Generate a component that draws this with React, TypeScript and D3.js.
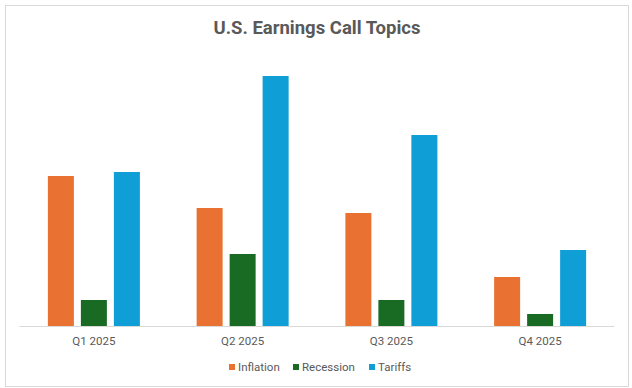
import React from "react";
import * as d3 from "d3";

const quarters = ["Q1 2025", "Q2 2025", "Q3 2025", "Q4 2025"];
const seriesNames = ["Inflation", "Recession", "Tariffs"];
const inflation = [150, 118, 113, 49];
const recession = [26, 72, 26, 12];
const tariffs = [154, 250, 191, 76];
const COLORS = ["#E97132", "#196B24", "#0F9ED5"];

const W = 632;
const H = 388;
const TEXT = "#595959";
const FONT = "Roboto, 'Liberation Sans', sans-serif";

const App = () => {
  const values = [inflation, recession, tariffs];
  const x = d3.scaleBand<string>().domain(quarters).range([19.5, 614.5]);
  const inner = d3
    .scaleBand<string>()
    .domain(seriesNames)
    .range([-46, 46])
    .paddingInner(7 / 33);
  const y = d3.scaleLinear().domain([0, 250]).range([326, 76]);

  // legend layout
  const legendX = [229, 293, 369];

  return (
    <svg
      width={W}
      height={H}
      style={{ position: "absolute", left: 0, top: 0, background: "#fff" }}
    >
      <rect x={5.5} y={5.5} width={623} height={381} fill="#fff" stroke="#d9d9d9" />
      <text
        x={317}
        y={34}
        textAnchor="middle"
        fontFamily={FONT}
        fontWeight="bold"
        fontSize={18.5}
        fill={TEXT}
      >
        U.S. Earnings Call Topics
      </text>

      {quarters.map((q, qi) => (
        <g key={q} transform={`translate(${(x(q) ?? 0) + x.bandwidth() / 2},0)`}>
          {seriesNames.map((s, si) => (
            <rect
              key={s}
              x={inner(s)}
              y={y(values[si][qi])}
              width={inner.bandwidth()}
              height={y(0) - y(values[si][qi])}
              fill={COLORS[si]}
            />
          ))}
          <text
            x={0}
            y={345}
            textAnchor="middle"
            fontFamily={FONT}
            fontSize={11.5}
            fill={TEXT}
          >
            {q}
          </text>
        </g>
      ))}

      <line x1={19.5} x2={614.5} y1={326.5} y2={326.5} stroke="#d9d9d9" />

      {seriesNames.map((s, i) => (
        <g key={s} transform={`translate(${legendX[i]},367)`}>
          <rect x={0} y={-3} width={6} height={6} fill={COLORS[i]} />
          <text
            x={9}
            y={4}
            fontFamily={FONT}
            fontSize={11.5}
            fill={TEXT}
          >
            {s}
          </text>
        </g>
      ))}
    </svg>
  );
};

export default App;
